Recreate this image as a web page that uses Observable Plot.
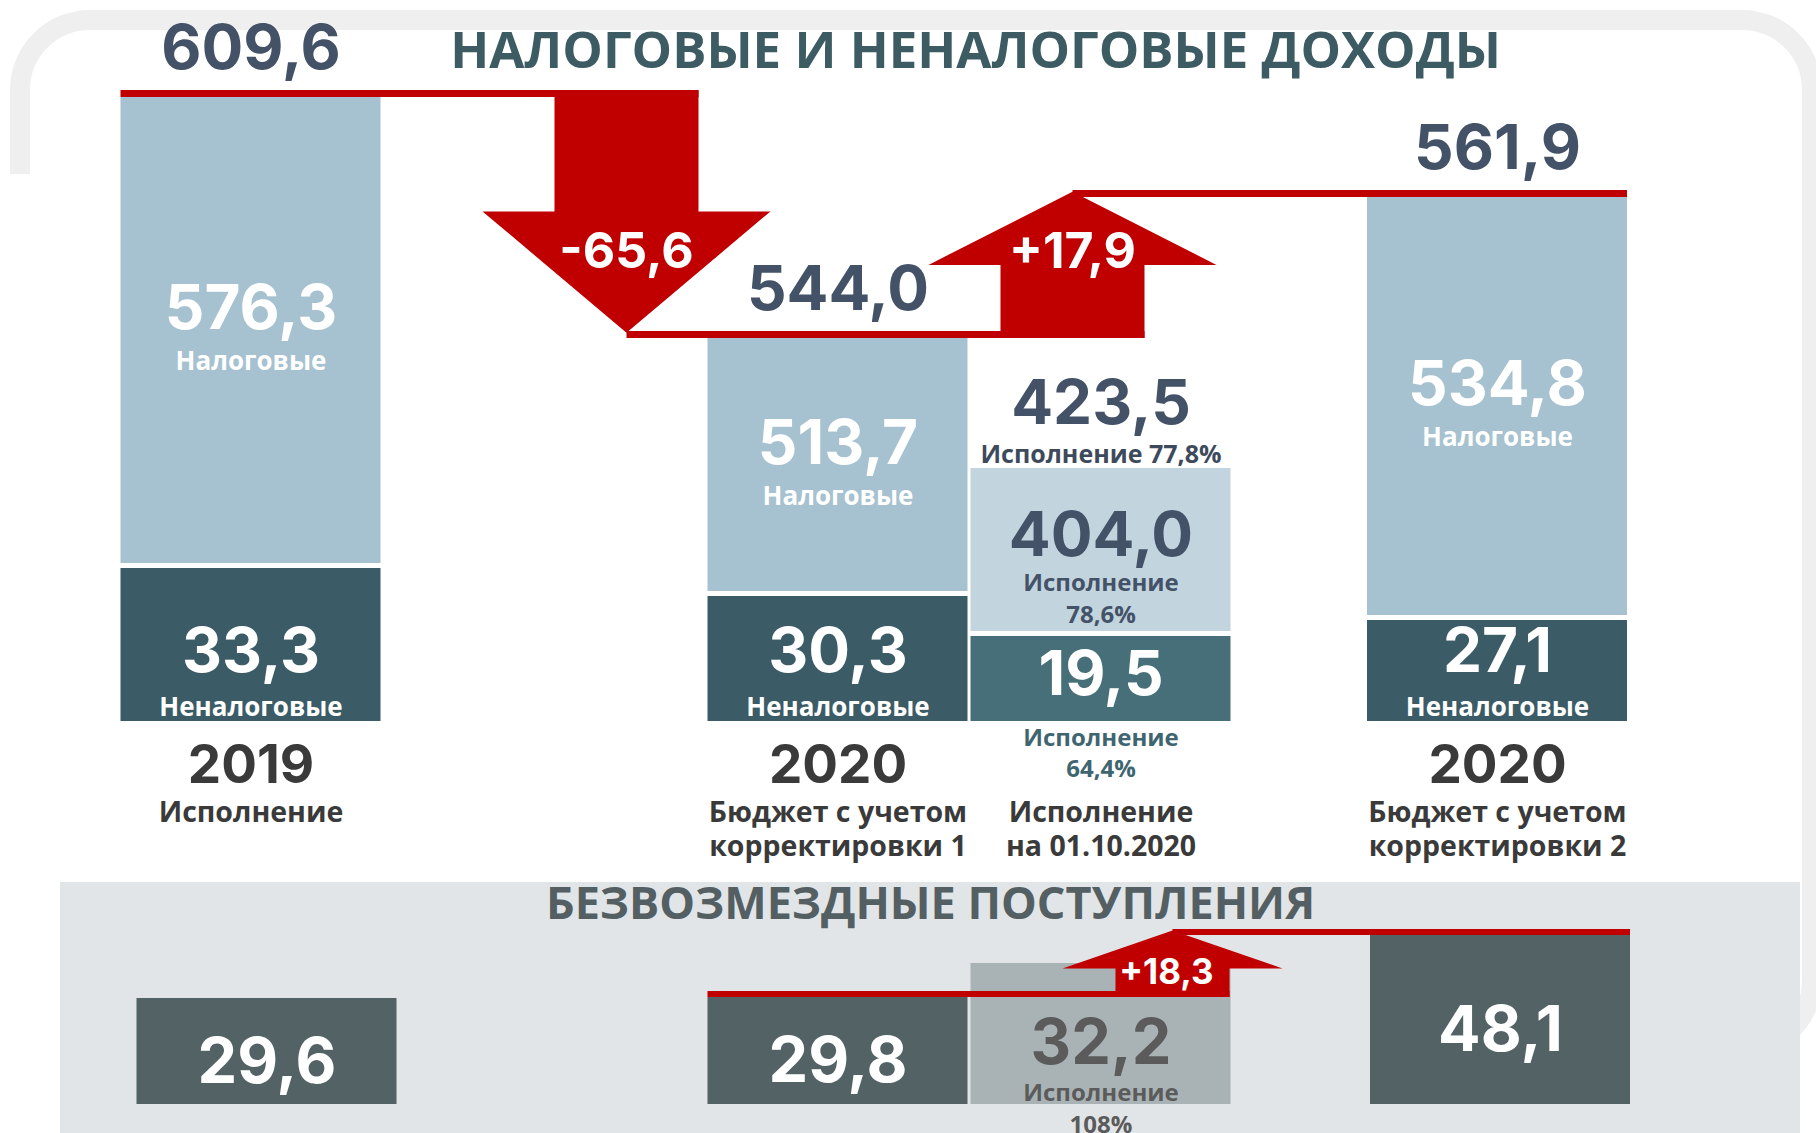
<!DOCTYPE html>
<html>
<head>
<meta charset="utf-8">
<script src="https://cdn.jsdelivr.net/npm/d3@7"></script>
<script src="https://cdn.jsdelivr.net/npm/@observablehq/plot@0.6"></script>
<style>
  body { margin: 0; background: #fff; font-family: "Open Sans", sans-serif; }
  #wrap { position: relative; width: 1816px; height: 1133px; overflow: hidden; background: #fff; }
  #frame { position: absolute; left: 10px; top: 10px; width: 1772px; height: 1010px; border: 20px solid #efefef; border-radius: 80px; }
  #maskLeft { position: absolute; left: 0; top: 174px; width: 60px; height: 960px; background: #fff; }
  #panel { position: absolute; left: 60px; top: 882px; width: 1740px; height: 251px; background: #e1e5e7; }
  #top, #bottom { position: absolute; left: 0; width: 1816px; }
  #top { top: 0; }
  #bottom { top: 882px; }
  #top svg, #bottom svg { max-width: none; }
</style>
</head>
<body>
<div id="wrap">
  <div id="frame"></div>
  <div id="maskLeft"></div>
  <div id="panel"></div>
  <div id="top"></div>
  <div id="bottom"></div>
</div>
<script>
// ---------------- DATA ----------------
const columnKeys   = ["2019", "2020 корр. 1", "2020 исп. 01.10", "2020 корр. 2"];
const columnKinds  = ["fact", "plan", "exec", "plan"];
const yearLabels   = ["2019", "2020", "", "2020"];
const subLabels    = ["Исполнение", "Бюджет с учетом\nкорректировки 1", "Исполнение\nна 01.10.2020", "Бюджет с учетом\nкорректировки 2"];
const taxRevenue    = [576.3, 513.7, 404.0, 534.8];   // Налоговые
const nonTaxRevenue = [33.3, 30.3, 19.5, 27.1];       // Неналоговые
const grants        = [29.6, 29.8, 32.2, 48.1];       // Безвозмездные поступления
const segmentNames  = ["Налоговые", "Неналоговые"];
const execWord      = "Исполнение";
const titleTop      = "НАЛОГОВЫЕ И НЕНАЛОГОВЫЕ ДОХОДЫ";
const titleBottom   = "БЕЗВОЗМЕЗДНЫЕ ПОСТУПЛЕНИЯ";

// ---------------- DERIVED ----------------
const fmt = v => d3.format(".1f")(v).replace(".", ",");
const fmtSigned = v => d3.format("+.1f")(v).replace(".", ",").replace("\u2212", "-");
const pct = (a, b, digits) => d3.format(`.${digits}f`)(a / b * 100).replace(".", ",") + "%";

const totals = taxRevenue.map((t, i) => Math.round((t + nonTaxRevenue[i]) * 10) / 10);
const cols = columnKeys.map((key, i) => ({
  i, key, kind: columnKinds[i], tax: taxRevenue[i], nonTax: nonTaxRevenue[i],
  total: totals[i], grant: grants[i], year: yearLabels[i], sub: subLabels[i]
}));
const execIdx = columnKinds.indexOf("exec");
const planIdx = execIdx - 1;
const planCol = cols[planIdx];
const idxPlan2 = columnKinds.lastIndexOf("plan");

// ---------------- STYLE / LAYOUT ----------------
const FONT = "'Open Sans', sans-serif";
const NUMFONT = "Inter, 'Open Sans', sans-serif";
const HALF = 130;                         // half bar width (px)
const C = {
  tax: "#a6c1cf", nonTax: "#3b5b66", taxExec: "#c2d5df", nonTaxExec: "#466f79",
  num: "#445268", dark: "#3a3a3a", title: "#3d5b63", red: "#c00000",
  grant: "#536264", grantExec: "#a9b3b5", grantTitle: "#535f62"
};
// Not-to-scale infographic: piecewise-linear scale transforms through the data break points
const xTopPoly = d3.scaleLinear(cols.map(d => d.i), [250.5, 837.5, 1100.5, 1497]);
const xBotPoly = d3.scaleLinear(cols.map(d => d.i), [266.5, 837.5, 1100.5, 1500]);
const topBreaks = Array.from(new Set([0, ...nonTaxRevenue, ...totals])).sort(d3.ascending);
const yTop = d3.scaleLinear(topBreaks, [721, 636, 620, 596, 568, 468, 338, 197, 97]);
const midTop = (a, b) => yTop.invert((yTop(a) + yTop(b)) / 2);
const botBreaks = Array.from(new Set([0, ...grants])).sort(d3.ascending);
const yBot = d3.scaleLinear(botBreaks, [222, 116, 115, 81, 53]);
const midBot = (a, b) => yBot.invert((yBot(a) + yBot(b)) / 2);

// red waterfall connectors + block arrows (positions through Plot's scales)
function redWaterfall(cfg) {
  return (index, scales) => {
    const X = Math.abs(scales.x(0)) < 1e-9 ? (v => scales.x(cfg.xT(v))) : scales.x;
    const Y = Math.abs(scales.y(0)) < 1e-9 ? (v => scales.y(cfg.yT(v))) : scales.y;
    const g = d3.create("svg:g").attr("fill", C.red);
    let lineStart = X(cfg.startCol) - HALF;
    const s = cfg.shaft / 2, h = cfg.head / 2;
    for (const step of cfg.steps) {
      const cx = X(step.col) + step.dx;
      const y0 = Y(step.from), y1 = Y(step.to);
      const up = step.to > step.from;
      g.append("rect").attr("x", lineStart).attr("y", y0 - cfg.thick)
        .attr("width", cx + s - lineStart).attr("height", cfg.thick);
      const base = up ? y0 : y0 - cfg.thick;
      const tip = y1 - cfg.thick * 0.75;
      const hb = tip + (base - tip) * cfg.headFrac;
      g.append("path").attr("d", d3.line()([[cx - s, base], [cx + s, base], [cx + s, hb], [cx + h, hb], [cx, tip], [cx - h, hb], [cx - s, hb]]) + "Z");
      const c = hb + (tip - hb) * step.labelT;
      g.append("text").attr("x", cx + (cfg.labelDx || 0)).attr("y", c + 0.36 * cfg.labelSize)
        .attr("text-anchor", "middle").attr("fill", "white").attr("font-family", NUMFONT)
        .attr("font-weight", 700).attr("font-size", cfg.labelSize)
        .text(fmtSigned(step.to - step.from));
      lineStart = cx;
    }
    const last = cfg.steps[cfg.steps.length - 1];
    g.append("rect").attr("x", lineStart).attr("y", Y(last.to) - cfg.thick)
      .attr("width", X(cfg.endCol) + HALF - lineStart).attr("height", cfg.thick);
    return g.node();
  };
}

const base = {fontFamily: FONT, fontWeight: 700};
const num = {fontFamily: NUMFONT, fontWeight: 700};
const notExec = cols.filter(d => d.kind !== "exec");
const onlyExec = cols.filter(d => d.kind === "exec");

// ---------------- TOP CHART ----------------
const topChart = Plot.plot({
  width: 1816, height: 882, margin: 0,
  x: {type: "linear", domain: [0, 1816], range: [0, 1816], transform: xTopPoly, axis: null},
  y: {type: "linear", domain: [0, 882], range: [0, 882], transform: yTop, axis: null},
  style: {background: "transparent", fontFamily: FONT, overflow: "visible"},
  marks: [
    Plot.rect(notExec, {x1: "i", x2: "i", y1: "nonTax", y2: "total", insetLeft: -HALF, insetRight: -HALF, insetBottom: 5, fill: C.tax}),
    Plot.rect(onlyExec, {x1: "i", x2: "i", y1: "nonTax", y2: "total", insetLeft: -HALF, insetRight: -HALF, insetBottom: 5, fill: C.taxExec}),
    Plot.rect(notExec, {x1: "i", x2: "i", y1: d => 0, y2: "nonTax", insetLeft: -HALF, insetRight: -HALF, fill: C.nonTax}),
    Plot.rect(onlyExec, {x1: "i", x2: "i", y1: d => 0, y2: "nonTax", insetLeft: -HALF, insetRight: -HALF, fill: C.nonTaxExec}),

    // tax segment labels
    Plot.text(notExec, {...num, x: "i", y: d => midTop(d.nonTax, d.total), text: d => fmt(d.tax), fill: "white", fontSize: 62, lineAnchor: "bottom", dy: -4}),
    Plot.text(notExec, {...base, x: "i", y: d => midTop(d.nonTax, d.total), text: d => segmentNames[0], fill: "white", fontSize: 26, lineAnchor: "bottom", dy: 37}),
    Plot.text(onlyExec, {...num, x: "i", y: d => midTop(d.nonTax, d.total), text: d => fmt(d.tax), fill: C.num, fontSize: 62, lineAnchor: "bottom", dy: 3}),
    Plot.text(onlyExec, {...base, x: "i", y: d => midTop(d.nonTax, d.total), text: d => execWord + "\n" + pct(d.tax, planCol.tax, 1), fill: C.num, fontSize: 24, lineHeight: 1.33, lineAnchor: "bottom", dy: 70}),

    // non-tax segment labels
    Plot.text(notExec, {...num, x: "i", y: d => 0, text: d => fmt(d.nonTax), fill: "white", fontSize: 62, lineAnchor: "bottom", dy: -50}),
    Plot.text(onlyExec, {...num, x: "i", y: d => midTop(0, d.nonTax), text: d => fmt(d.nonTax), fill: "white", fontSize: 62, lineAnchor: "bottom", dy: 16}),
    Plot.text(notExec, {...base, x: "i", y: d => 0, text: d => segmentNames[1], fill: "white", fontSize: 26, lineAnchor: "bottom", dy: -6}),

    // totals above bars
    Plot.text(notExec, {...num, x: "i", y: "total", text: d => fmt(d.total), fill: C.num, fontSize: 62, lineAnchor: "bottom", dy: -29}),
    Plot.text(onlyExec, {...num, x: "i", y: "total", text: d => fmt(d.total), fill: C.num, fontSize: 62, lineAnchor: "bottom", dy: -45}),
    Plot.text(onlyExec, {...base, x: "i", y: "total", text: d => execWord + " " + pct(d.total, planCol.total, 1), fill: "#3d4a5c", fontSize: 25, lineAnchor: "bottom", dy: -6}),

    // below bars
    Plot.text(cols.filter(d => d.year), {...num, x: "i", y: d => 0, text: "year", fill: C.dark, fontSize: 53, lineAnchor: "top", dy: 24}),
    Plot.text(cols, {...base, x: "i", y: d => 0, text: "sub", fill: C.dark, fontSize: 28.5, lineHeight: 1.18, lineAnchor: "top", dy: 77}),
    Plot.text(onlyExec, {...base, x: "i", y: d => 0, text: d => execWord + "\n" + pct(d.nonTax, planCol.nonTax, 1), fill: "#3f6670", fontSize: 24, lineHeight: 1.3, lineAnchor: "top", dy: 2}),

    // title
    Plot.text([titleTop], {...base, frameAnchor: "top", text: d => d, fill: C.title, fontSize: 51, lineAnchor: "top", dx: 67, dy: 31}),

    // red waterfall
    redWaterfall({
      xT: xTopPoly, yT: yTop, startCol: 0, endCol: idxPlan2, thick: 7, shaft: 144, head: 288, headFrac: 0.5,
      labelSize: 50,
      steps: [
        {from: totals[0], to: totals[planIdx], col: planIdx, dx: -211, labelT: 0.32},
        {from: totals[planIdx], to: totals[idxPlan2], col: execIdx, dx: -28, labelT: 0.2}
      ]
    })
  ]
});
document.getElementById("top").appendChild(topChart);

// ---------------- BOTTOM CHART ----------------
const bottomChart = Plot.plot({
  width: 1816, height: 251, margin: 0,
  x: {type: "linear", domain: [0, 1816], range: [0, 1816], transform: xBotPoly, axis: null},
  y: {type: "linear", domain: [0, 251], range: [0, 251], transform: yBot, axis: null},
  style: {background: "transparent", fontFamily: FONT, overflow: "visible"},
  marks: [
    Plot.text([titleBottom], {...base, frameAnchor: "top", text: d => d, fill: C.grantTitle, fontSize: 45, lineAnchor: "top", dx: 22, dy: 5}),
    Plot.rect(notExec, {x1: "i", x2: "i", y1: d => 0, y2: "grant", insetLeft: -HALF, insetRight: -HALF, fill: C.grant}),
    Plot.rect(onlyExec, {x1: "i", x2: "i", y1: d => 0, y2: "grant", insetLeft: -HALF, insetRight: -HALF, fill: C.grantExec}),
    Plot.text(notExec, {...num, x: "i", y: d => midBot(0, d.grant), text: d => fmt(d.grant), fill: "white", fontSize: 63, lineAnchor: "bottom", dy: 31}),
    Plot.text(onlyExec, {...num, x: "i", y: d => midBot(0, d.grant), text: d => fmt(d.grant), fill: "#5b5b5b", fontSize: 63, lineAnchor: "bottom", dy: 30}),
    Plot.text(onlyExec, {...base, x: "i", y: d => midBot(0, d.grant), text: d => execWord + "\n" + pct(d.grant, planCol.grant, 0), fill: "#5b5b5b", fontSize: 24, lineHeight: 1.33, lineAnchor: "top", dy: 44}),
    redWaterfall({
      xT: xBotPoly, yT: yBot, startCol: planIdx, endCol: idxPlan2, thick: 6, shaft: 114, head: 220, headFrac: 0.57,
      labelSize: 35, labelDx: -6,
      steps: [
        {from: grants[planIdx], to: grants[idxPlan2], col: execIdx, dx: 72, labelT: -0.08}
      ]
    })
  ]
});
document.getElementById("bottom").appendChild(bottomChart);
</script>
</body>
</html>
